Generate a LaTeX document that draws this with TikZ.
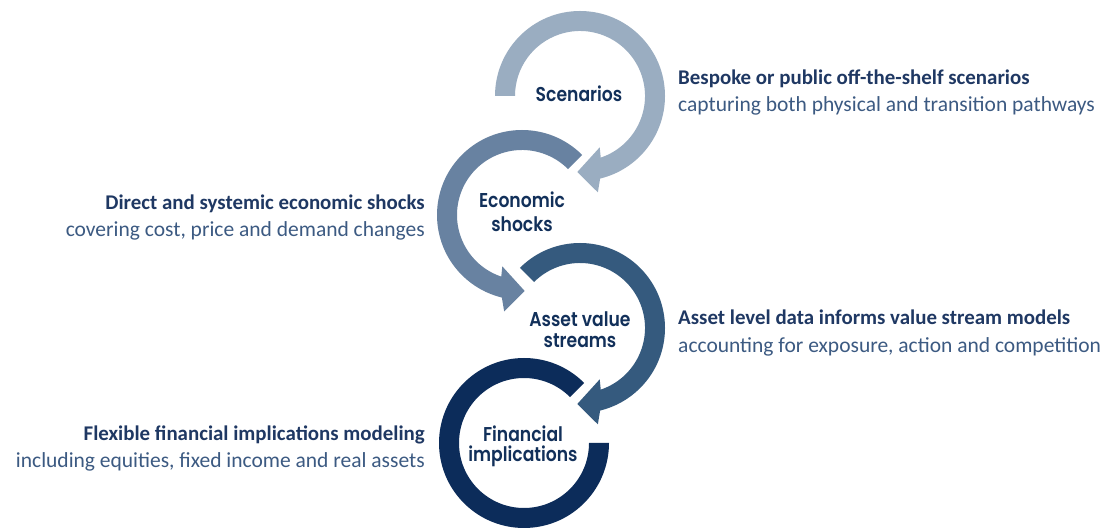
\documentclass[tikz,border=0pt]{standalone}
\usepackage{fontspec}
\setmainfont{Carlito}
\newfontfamily\circfont{Poppins SemiBold}[FakeStretch=0.86]
\definecolor{ringA}{HTML}{9AADC1}
\definecolor{ringB}{HTML}{6882A1}
\definecolor{ringC}{HTML}{355A7E}
\definecolor{ringD}{HTML}{0C2C5A}
\definecolor{labelcol}{HTML}{12305A}
\definecolor{headcol}{HTML}{1F3863}
\definecolor{desccol}{HTML}{3C5A82}
\begin{document}
\begin{tikzpicture}[x=1pt,y=1pt,
  circlabel/.style={inner sep=0pt,anchor=base,text=labelcol,font=\circfont\fontsize{20}{22}\selectfont},
  headtext/.style={inner sep=0pt,text=headcol,font=\bfseries\fontsize{20.9}{22}\selectfont},
  desctext/.style={inner sep=0pt,text=desccol,font=\fontsize{21.5}{22}\selectfont}]
\useasboundingbox (0,0) rectangle (1114,530);
\fill[white] (0,0) rectangle (1114,530);
% ring 1 : Scenarios
\begin{scope}[shift={(580,434)}]
\fill[ringA] (180:85pt) arc[start angle=180,end angle=-76.3,radius=85pt]
  -- (-79.5:98pt) -- (-92:76pt) -- (-69:55pt) -- (-71.4:65pt)
  arc[start angle=-71.4,end angle=180,radius=65pt] -- cycle;
\end{scope}
% ring 2 : Economic shocks
\begin{scope}[shift={(522,315)}]
\fill[ringB] (45:85pt) arc[start angle=45,end angle=256.3,radius=85pt]
  -- (259.5:98pt) -- (272:76pt) -- (249:55pt) -- (251.4:65pt)
  arc[start angle=251.4,end angle=45,radius=65pt] -- cycle;
\end{scope}
% ring 3 : Asset value streams
\begin{scope}[shift={(580,202)}]
\fill[ringC] (135:85pt) arc[start angle=135,end angle=-76.3,radius=85pt]
  -- (-79.5:98pt) -- (-92:76pt) -- (-69:55pt) -- (-71.4:65pt)
  arc[start angle=-71.4,end angle=135,radius=65pt] -- cycle;
\end{scope}
% ring 4 : Financial implications
\begin{scope}[shift={(524,87)}]
\fill[ringD] (45:85pt) arc[start angle=45,end angle=360,radius=85pt]
  -- (0:65pt) arc[start angle=360,end angle=45,radius=65pt] -- cycle;
\end{scope}
% circle labels
\node[circlabel] (s1) at (579,428) {Scenarios};
\node[circlabel] (s2a) at (522,322) {Economic};
\node[circlabel] (s2b) at (522,298) {shocks};
\node[circlabel] (s3a) at (580,203) {Asset value};
\node[circlabel] (s3b) at (580,182) {streams};
\node[circlabel] (s4a) at (523,88) {Financial};
\node[circlabel] (s4b) at (523,68) {implications};
% side texts
\node[headtext,anchor=base west] (h1) at (678,445) {Bespoke or public off-the-shelf scenarios};
\node[desctext,anchor=base west] (d1) at (678,418) {capturing both physical and transition pathways};
\node[headtext,anchor=base east] (h2) at (425,320) {Direct and systemic economic shocks};
\node[desctext,anchor=base east] (d2) at (425,293) {covering cost, price and demand changes};
\node[headtext,anchor=base west] (h3) at (678,205) {Asset level data informs value stream models};
\node[desctext,anchor=base west] (d3) at (678,177) {accounting for exposure, action and competition};
\node[headtext,anchor=base east] (h4) at (425,89) {Flexible financial implications modeling};
\node[desctext,anchor=base east] (d4) at (425,62) {including equities, fixed income and real assets};
\end{tikzpicture}
\end{document}
